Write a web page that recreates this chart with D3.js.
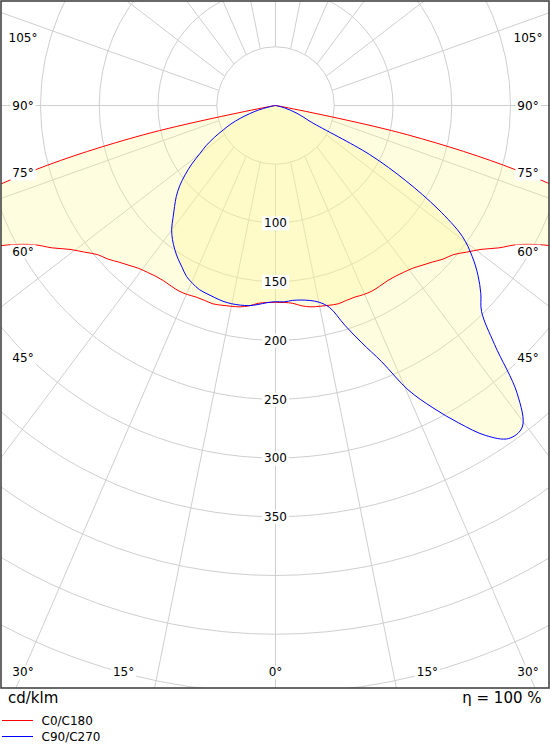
<!DOCTYPE html>
<html>
<head>
<meta charset="utf-8">
<script src="https://cdn.jsdelivr.net/npm/d3@7.9.0/dist/d3.min.js"></script>
<style>
  body { margin: 0; background: #fff; }
  svg { display: block; font-family: "DejaVu Sans", Verdana, sans-serif; }
</style>
</head>
<body>
<svg id="chart" width="550" height="750"></svg>
<script>
// gamma angles in degrees from nadir, same for every half plane
const gammas = [0, 2.5, 5, 7.5, 10, 12.5, 15, 17.5, 20, 22.5, 25, 27.5, 30, 32.5, 35, 37.5, 40, 42.5, 45,
  47.5, 50, 52.5, 55, 57.5, 60, 62.5, 65, 67.5, 70, 72.5, 75, 77.5, 80, 82.5, 85, 87.5, 90];

// cd/klm per half plane
const c0Values = [167.5, 167.8, 169, 172, 174, 175, 176, 177, 176.5, 176.5, 177.5, 178, 177.5, 177, 177.5, 179, 181, 184.5, 188.5,
  193.5, 197.5, 205, 213.5, 225.5, 237, 257, 292, 322, 330, 285, 212, 115, 8, 0, 0, 0, 0];
const c180Values = [167.5, 167.8, 169, 172, 174, 175, 176, 177, 176.5, 176.5, 177.5, 178, 177.5, 177, 177.5, 179, 181, 184.5, 188.5,
  193.5, 197.5, 205, 213.5, 225.5, 237, 257, 292, 322, 330, 285, 212, 115, 8, 0, 0, 0, 0];
const c90Values = [167, 167.3, 166.5, 167, 168.5, 171.5, 178, 196, 215, 236, 267, 290, 312, 333, 346, 345, 320, 276, 248,
  237, 225, 211, 194, 164, 128, 90, 34, 25.5, 19.5, 13.5, 8, 3, 0, 0, 0, 0, 0];
const c270Values = [167, 168, 170, 171.8, 172.5, 172.8, 172.5, 171.5, 170.5, 169.5, 167, 164, 159, 154.5, 149.5, 144, 137.5, 129, 121.5,
  114.5, 106.5, 97, 87, 76.5, 68, 58.5, 49, 41, 32, 23, 15, 6, 1, 0, 0, 0, 0];

const ringValues = [50, 100, 150, 200, 250, 300, 350, 400, 450, 500, 550];
const ringLabels = [100, 150, 200, 250, 300, 350];
const gridAngles = [0, 15, 30, 45, 60, 75, 90, 105, 120, 135, 150, 165, 180, 195, 210, 225, 240, 255, 270, 285, 300, 315, 330, 345];
const angleTicks = [0, 15, 30, 45, 60, 75, 90, 105];
const seriesNames = ['C0/C180', 'C90/C270'];
const seriesColors = ['#ff0000', '#0000ff'];

const frame = {x: 1, y: 1, w: 548, h: 687};
const cx = 275.5, cy = 105.5;

const r = d3.scaleLinear().domain([0, 100]).range([0, 117.5]);
const rad = d3.scaleLinear().domain([0, 180]).range([0, Math.PI]);

const svg = d3.select('#chart');
svg.append('rect').attr('width', 550).attr('height', 750).attr('fill', '#fff');

svg.append('clipPath').attr('id', 'clip')
  .append('rect')
  .attr('x', frame.x).attr('y', frame.y)
  .attr('width', frame.w).attr('height', frame.h);

const plot = svg.append('g').attr('clip-path', 'url(#clip)');
const g = plot.append('g').attr('transform', `translate(${cx},${cy})`);

// grid circles
g.selectAll('circle.ring')
  .data(ringValues)
  .join('circle')
  .attr('class', 'ring')
  .attr('r', (d) => r(d))
  .attr('fill', 'none')
  .attr('stroke', '#cfcfcf')
  .attr('stroke-width', 1);

// angle lines, they start on the 50 ring
gridAngles.forEach((a) => {
  let t = rad(a);
  let x0 = r(50) * Math.sin(t), y0 = r(50) * Math.cos(t);
  let dx = 0.75 * Math.sin(t), dy = Math.cos(t);
  let n = Math.hypot(dx, dy);
  g.append('line')
    .attr('x1', x0).attr('y1', y0)
    .attr('x2', x0 + 1400 * dx / n).attr('y2', y0 + 1400 * dy / n)
    .attr('stroke', '#cfcfcf')
    .attr('stroke-width', 1);
});

function labelWithBox(parent, x, y, txt) {
  let box = parent.append('rect').attr('fill', '#fff');
  let t = parent.append('text')
    .attr('x', x).attr('y', y).attr('dy', '0.36em')
    .attr('text-anchor', 'middle')
    .attr('font-size', 12)
    .attr('fill', '#000')
    .text(txt);
  let b = t.node().getBBox();
  box.attr('x', b.x - 2).attr('y', b.y).attr('width', b.width + 4).attr('height', b.height);
}

// intensity labels along the nadir
ringLabels.forEach((v) => labelWithBox(plot, cx, cy + r(v), v));

// angle labels round the frame
angleTicks.forEach((a) => {
  [-1, 1].forEach((side) => {
    if (a === 0 && side === -1) return;
    let t = rad(a), x, y;
    if (a < 45) {
      y = 672;
      x = cx + side * Math.min(567 * Math.tan(t), 252.5);
    } else {
      x = cx + side * 252.5;
      y = cy + 252.5 / Math.tan(t);
    }
    labelWithBox(plot, x, y, `${a}°`);
  });
});

function plane(rightVals, leftVals) {
  let pts = [];
  for (let i = gammas.length - 1; i >= 0; i--) pts.push([Math.PI - rad(gammas[i]), r(rightVals[i])]);
  for (let i = 1; i < gammas.length; i++) pts.push([Math.PI + rad(gammas[i]), r(leftVals[i])]);
  return pts;
}

const curve = d3.lineRadial()
  .angle((d) => d[0])
  .radius((d) => d[1])
  .curve(d3.curveCatmullRom.alpha(0.5));

const planes = [plane(c0Values, c180Values), plane(c90Values, c270Values)];

planes.forEach((p) => {
  g.append('path')
    .attr('d', curve(p) + 'Z')
    .attr('fill', 'rgb(255,248,140)')
    .attr('fill-opacity', 0.28)
    .attr('stroke', 'none');
});

planes.forEach((p, i) => {
  g.append('path')
    .attr('d', curve(p))
    .attr('fill', 'none')
    .attr('stroke', seriesColors[i])
    .attr('stroke-width', 1);
});

// frame
svg.append('rect')
  .attr('x', frame.x).attr('y', frame.y)
  .attr('width', frame.w).attr('height', frame.h)
  .attr('fill', 'none')
  .attr('stroke', '#383838')
  .attr('stroke-width', 1.5);

svg.append('text')
  .attr('x', 8).attr('y', 702.5)
  .attr('font-size', 15)
  .text('cd/klm');

svg.append('text')
  .attr('x', 541.5).attr('y', 702.5)
  .attr('font-size', 15)
  .attr('text-anchor', 'end')
  .text('η = 100 %');

// legend
const legend = svg.append('g');
seriesNames.forEach((name, i) => {
  let y = 720.5 + i * 16;
  legend.append('line')
    .attr('x1', 2).attr('x2', 33)
    .attr('y1', y).attr('y2', y)
    .attr('stroke', seriesColors[i])
    .attr('stroke-width', 1);
  legend.append('text')
    .attr('x', 41.5).attr('y', y + 4)
    .attr('font-size', 12)
    .text(name);
});
</script>
</body>
</html>
